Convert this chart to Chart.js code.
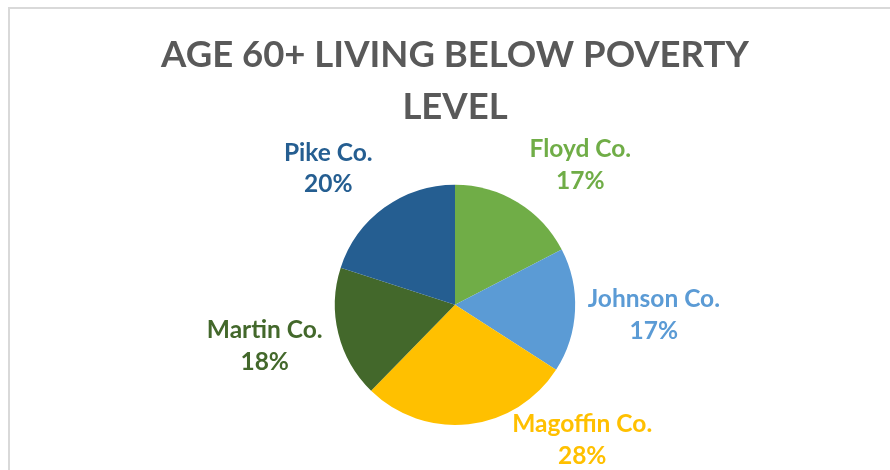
<!DOCTYPE html>
<html>
<head>
<meta charset="utf-8">
<script src="https://cdn.jsdelivr.net/npm/chart.js@4.4.0/dist/chart.umd.min.js"></script>
<style>
  html, body { margin: 0; padding: 0; background: #fff; }
  body { width: 890px; height: 470px; position: relative; overflow: hidden; }
  #frame {
    position: absolute; left: 8px; top: 7px; width: 900px; height: 480px;
    border-left: 2px solid #D9D9D9; border-top: 2px solid #D9D9D9;
  }
  #wrap { position: absolute; left: 0; top: 0; width: 890px; height: 470px; }
</style>
</head>
<body>
<div id="frame"></div>
<div id="wrap"><canvas id="pieChart" width="890" height="470"></canvas></div>
<script>
// data (share of the pie, %)
const counties = ["Floyd Co.", "Johnson Co.", "Magoffin Co.", "Martin Co.", "Pike Co."];
const shares = [17.4, 16.7, 28.2, 17.7, 20.0];
const sliceColors = ["#70AD47", "#5B9BD5", "#FFC000", "#43682B", "#255E91"];

// where each label sits, relative to its slice (best-fit style placement)
const labelAngleShift = [10.5, 0.2, -36.8, 1.7, -6.9];   // degrees from the slice's middle
const labelRadiusScale = [1.564, 1.657, 1.544, 1.62, 1.549];

const FONT = "Lato, 'Open Sans', sans-serif";

// draws the two-line labels outside the slices
const outsideLabels = {
  id: "outsideLabels",
  afterDatasetsDraw(chart) {
    const ctx = chart.ctx;
    const meta = chart.getDatasetMeta(0);
    const total = shares.reduce((a, b) => a + b, 0);
    ctx.save();
    ctx.font = "bold 24.5px " + FONT;
    ctx.textAlign = "center";
    ctx.textBaseline = "middle";
    meta.data.forEach((arc, i) => {
      const p = arc.getProps(["x", "y", "startAngle", "endAngle", "outerRadius"], true);
      const mid = (p.startAngle + p.endAngle) / 2 + labelAngleShift[i] * Math.PI / 180;
      const d = p.outerRadius * labelRadiusScale[i];
      const x = p.x + Math.cos(mid) * d;
      const y = p.y + Math.sin(mid) * d;
      const pct = Math.round(shares[i] / total * 100) + "%";
      ctx.fillStyle = sliceColors[i];
      ctx.fillText(counties[i], x, y - 15.5);
      ctx.fillText(pct, x, y + 16);
    });
    ctx.restore();
  }
};

new Chart(document.getElementById("pieChart"), {
  type: "pie",
  data: {
    labels: counties,
    datasets: [{
      data: shares,
      backgroundColor: sliceColors,
      borderWidth: 0
    }]
  },
  options: {
    responsive: false,
    animation: false,
    layout: { padding: { left: 20, right: 0, top: 0, bottom: 45 } },
    plugins: {
      legend: { display: false },
      tooltip: { enabled: false },
      title: {
        display: true,
        text: ["AGE 60+ LIVING BELOW POVERTY", "LEVEL"],
        color: "#595959",
        font: { family: FONT, size: 36.5, weight: "bold", lineHeight: 1.42 },
        padding: { top: 29, bottom: 52 }
      }
    }
  },
  plugins: [outsideLabels]
});
</script>
</body>
</html>
